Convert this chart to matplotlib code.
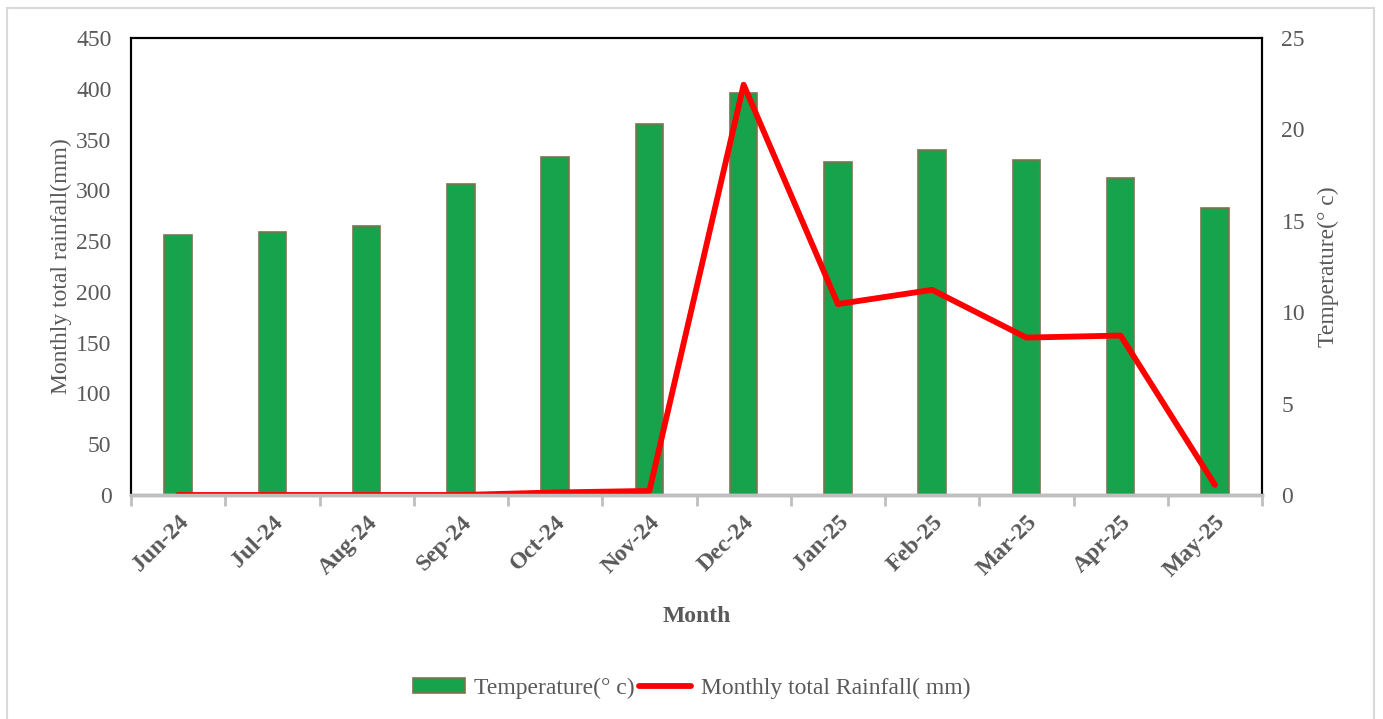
import matplotlib.pyplot as plt
from matplotlib.patches import Rectangle

months = ["Jun-24", "Jul-24", "Aug-24", "Sep-24", "Oct-24", "Nov-24",
          "Dec-24", "Jan-25", "Feb-25", "Mar-25", "Apr-25", "May-25"]
temperature = [14.2, 14.4, 14.7, 17.0, 18.5, 20.3,
               22.0, 18.2, 18.9, 18.3, 17.35, 15.7]
rainfall = [0, 0, 0, 0, 2.5, 4, 404, 188, 202, 155, 157, 10]

plt.rcParams["font.family"] = ["Liberation Serif", "DejaVu Serif"]
grey = "#595959"

fig = plt.figure(figsize=(13.83, 7.19), dpi=100)
# light border around the whole chart area
fig.patches.append(Rectangle((7 / 1383, -0.02), 1367 / 1383, 1.02 - 8 / 719,
                             transform=fig.transFigure, fill=False,
                             edgecolor="#d9d9d9", linewidth=1.5))

ax = fig.add_axes([131 / 1383, 1 - 495 / 719, 1131 / 1383, 457 / 719])
x = list(range(len(months)))

# temperature bars (right scale)
bars = ax.bar(x, temperature, width=0.29, color="#17a24c",
              edgecolor="#7a7550", linewidth=1.2, label="Temperature(° c)")
ax.set_ylim(0, 25)
ax.set_yticks(range(0, 26, 5))
ax.set_xlim(-0.5, len(months) - 0.5)

# rainfall line (left scale), drawn on top of bars
ax2 = ax.twinx()
line, = ax2.plot(x, rainfall, color="#ff0000", linewidth=4.2,
                 solid_capstyle="round", label="Monthly total Rainfall( mm)")
ax2.set_ylim(0, 450)
ax2.set_yticks(range(0, 451, 50))

# swap sides: temperature on the right, rainfall on the left
ax.yaxis.tick_right()
ax.yaxis.set_label_position("right")
ax2.yaxis.tick_left()
ax2.yaxis.set_label_position("left")
ax.set_ylabel("Temperature(° c)", fontsize=17, color=grey, labelpad=9)
ax2.set_ylabel("Monthly total rainfall(mm)", fontsize=17, color=grey, labelpad=3)

for a in (ax, ax2):
    a.tick_params(axis="y", length=0, labelsize=17, labelcolor=grey, pad=14)
    for s in ("left", "right", "top"):
        a.spines[s].set_color("black")
        a.spines[s].set_linewidth(1.5)
    a.spines["bottom"].set_color("#bfbfbf")
    a.spines["bottom"].set_linewidth(2.5)

# category boundary ticks on x axis, labels at bar centres
ax.set_xticks([i - 0.5 for i in range(len(months) + 1)])
ax.set_xticklabels([""] * (len(months) + 1))
ax.tick_params(axis="x", which="major", length=8, width=2, color="#bfbfbf", direction="out")
ax.set_xticks(x, minor=True)
ax.set_xticklabels(months, minor=True, rotation=45, ha="right",
                   rotation_mode="anchor", fontsize=17, fontweight="bold", color=grey)
ax.tick_params(axis="x", which="minor", length=0, pad=12)

fig.text(697 / 1383, 1 - 617 / 719, "Month", ha="center", va="center",
         fontsize=17, fontweight="bold", color=grey)

leg = fig.legend([bars, line], ["Temperature(° c)", "Monthly total Rainfall( mm)"],
                 loc="center", bbox_to_anchor=(0.5, 1 - 688 / 719), ncol=2,
                 frameon=False, fontsize=17, handlelength=2.2, handleheight=0.6,
                 handletextpad=0.4, columnspacing=0.2)
for t in leg.get_texts():
    t.set_color(grey)

plt.savefig("out.png", dpi=100)
